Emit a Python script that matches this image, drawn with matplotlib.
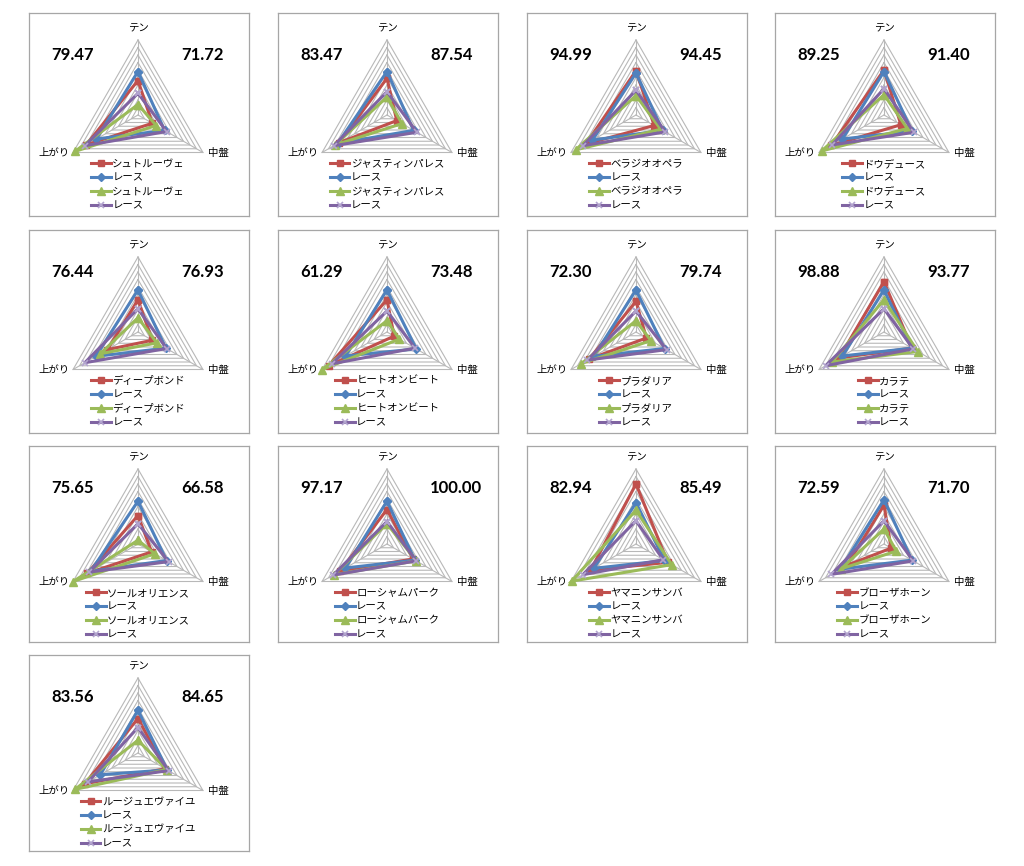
import matplotlib
matplotlib.use("Agg")
import numpy as np
import matplotlib.pyplot as plt

plt.rcParams['font.family'] = ['Noto Sans CJK JP', 'DejaVu Sans']

# ---------------- data ----------------
axis_labels = ['テン', '中盤', '上がり']
race_label = 'レース'
horse_names = ['シュトルーヴェ', 'ジャスティンパレス', 'ベラジオオペラ', 'ドウデュース',
               'ディープボンド', 'ヒートオンビート', 'プラダリア', 'カラテ',
               'ソールオリエンス', 'ローシャムパーク', 'ヤマニンサンバ', 'ブローザホーン',
               'ルージュエヴァイユ']
left_scores = ['79.47', '83.47', '94.99', '89.25', '76.44', '61.29', '72.30', '98.88',
               '75.65', '97.17', '82.94', '72.59', '83.56']
right_scores = ['71.72', '87.54', '94.45', '91.40', '76.93', '73.48', '79.74', '93.77',
                '66.58', '100.00', '85.49', '71.70', '84.65']
# values per panel: [テン, 中盤, 上がり]
horse_red = [[46, 22, 80], [49, 15, 74], [59, 28, 77], [60, 26, 81], [43, 22, 47],
             [43, 11, 90], [41, 16, 72], [67, 43, 69], [38, 21, 78], [46, 40, 72],
             [80, 49, 70], [52, 11, 57], [46, 42, 82]]
race_blue = [[58, 41, 64], [58, 41, 76], [56, 41, 67], [58, 43, 64], [56, 43, 65],
             [56, 45, 64], [56, 44, 65], [56, 43, 64], [57, 44, 73], [57, 43, 64],
             [55, 44, 65], [59, 43, 67], [57, 45, 58]]
horse_green = [[14, 28, 97], [24, 23, 80], [26, 38, 93], [27, 36, 96], [19, 29, 58],
               [15, 19, 100], [15, 23, 84], [43, 52, 80], [5, 26, 100], [27, 45, 82],
               [45, 55, 99], [20, 19, 66], [17, 44, 97]]
race_purple = [[29, 44, 82], [31, 46, 82], [33, 45, 82], [35, 46, 80], [31, 44, 82],
               [28, 43, 85], [28, 47, 75], [31, 45, 90], [27, 47, 75], [30, 45, 83],
               [31, 42, 82], [31, 45, 81], [34, 47, 77]]

# ---------------- layout ----------------
FW, FH = 1024, 866
fig = plt.figure(figsize=(FW / 100, FH / 100), dpi=100)

panel_lefts = [29, 278, 527, 775]
panel_tops = [13, 230, 446, 655]
panel_heights = [203, 203, 196, 196]
PW = 220
R_PX = 75.0
S = 100.0 / R_PX
angles = np.deg2rad([90, -30, 210])
closed = np.r_[angles, angles[:1]]

styles = [
    dict(color='#C0504D', marker='s', ms=4.8, mfc='#C0504D', mec='#C0504D'),
    dict(color='#4F81BD', marker='D', ms=4.2, mfc='#4F81BD', mec='#4F81BD'),
    dict(color='#9BBB59', marker='^', ms=6, mfc='#9BBB59', mec='#9BBB59'),
    dict(color='#8064A2', marker='x', ms=5, mfc='none', mec='#B3A5CF', mew=1.2),
]

for i, name in enumerate(horse_names):
    row, col = divmod(i, 4)
    left, top, ph = panel_lefts[col], panel_tops[row], panel_heights[row]
    ax = fig.add_axes([left / FW, 1 - (top + ph) / FH, PW / FW, ph / FH])
    cx = 109.0
    cy = 102.0 if ph > 200 else 98.0
    ax.set_xlim(-cx * S, (PW - cx) * S)
    ax.set_ylim(-(ph - cy) * S, cy * S)
    ax.set_xticks([])
    ax.set_yticks([])
    for sp in ax.spines.values():
        sp.set_color('#A6A6A6')
        sp.set_linewidth(0.9)

    # triangular grid
    for lvl in range(10, 101, 10):
        ax.plot(lvl * np.cos(closed), lvl * np.sin(closed), color='#B8B8B8', lw=0.8, zorder=1)
    for a in angles:
        ax.plot([0, 100 * np.cos(a)], [0, 100 * np.sin(a)], color='#B8B8B8', lw=0.8, zorder=1)

    series = [(horse_red[i], name), (race_blue[i], race_label),
              (horse_green[i], name), (race_purple[i], race_label)]
    for k, ((vals, lab), st) in enumerate(zip(series, styles)):
        v = np.r_[vals, vals[:1]]
        ax.plot(v * np.cos(closed), v * np.sin(closed), lw=2.2, label=lab,
                zorder=3 + k, solid_joinstyle='miter', **st)

    # axis labels
    ax.text(0, 87 * S, axis_labels[0], ha='center', va='center', fontsize=7.5)
    ax.text(70 * S, -38 * S, axis_labels[1], ha='left', va='center', fontsize=7.5)
    ax.text(-68 * S, -38 * S, axis_labels[2], ha='right', va='center', fontsize=7.5)

    # scores
    ny = (cy - 42) * S
    ax.text((22 - cx) * S, ny, left_scores[i], ha='left', va='center',
            fontsize=12, fontweight='bold', family='Lato')
    ax.text((152 - cx) * S, ny, right_scores[i], ha='left', va='center',
            fontsize=12, fontweight='bold', family='Lato')

    ax.legend(loc='upper center', bbox_to_anchor=(0, -44 * S), bbox_transform=ax.transData,
              frameon=False, fontsize=7.5, borderpad=0, labelspacing=0.36,
              handlelength=1.9, handletextpad=0.15, borderaxespad=0, numpoints=1)

fig.savefig('out.png', dpi=100)
